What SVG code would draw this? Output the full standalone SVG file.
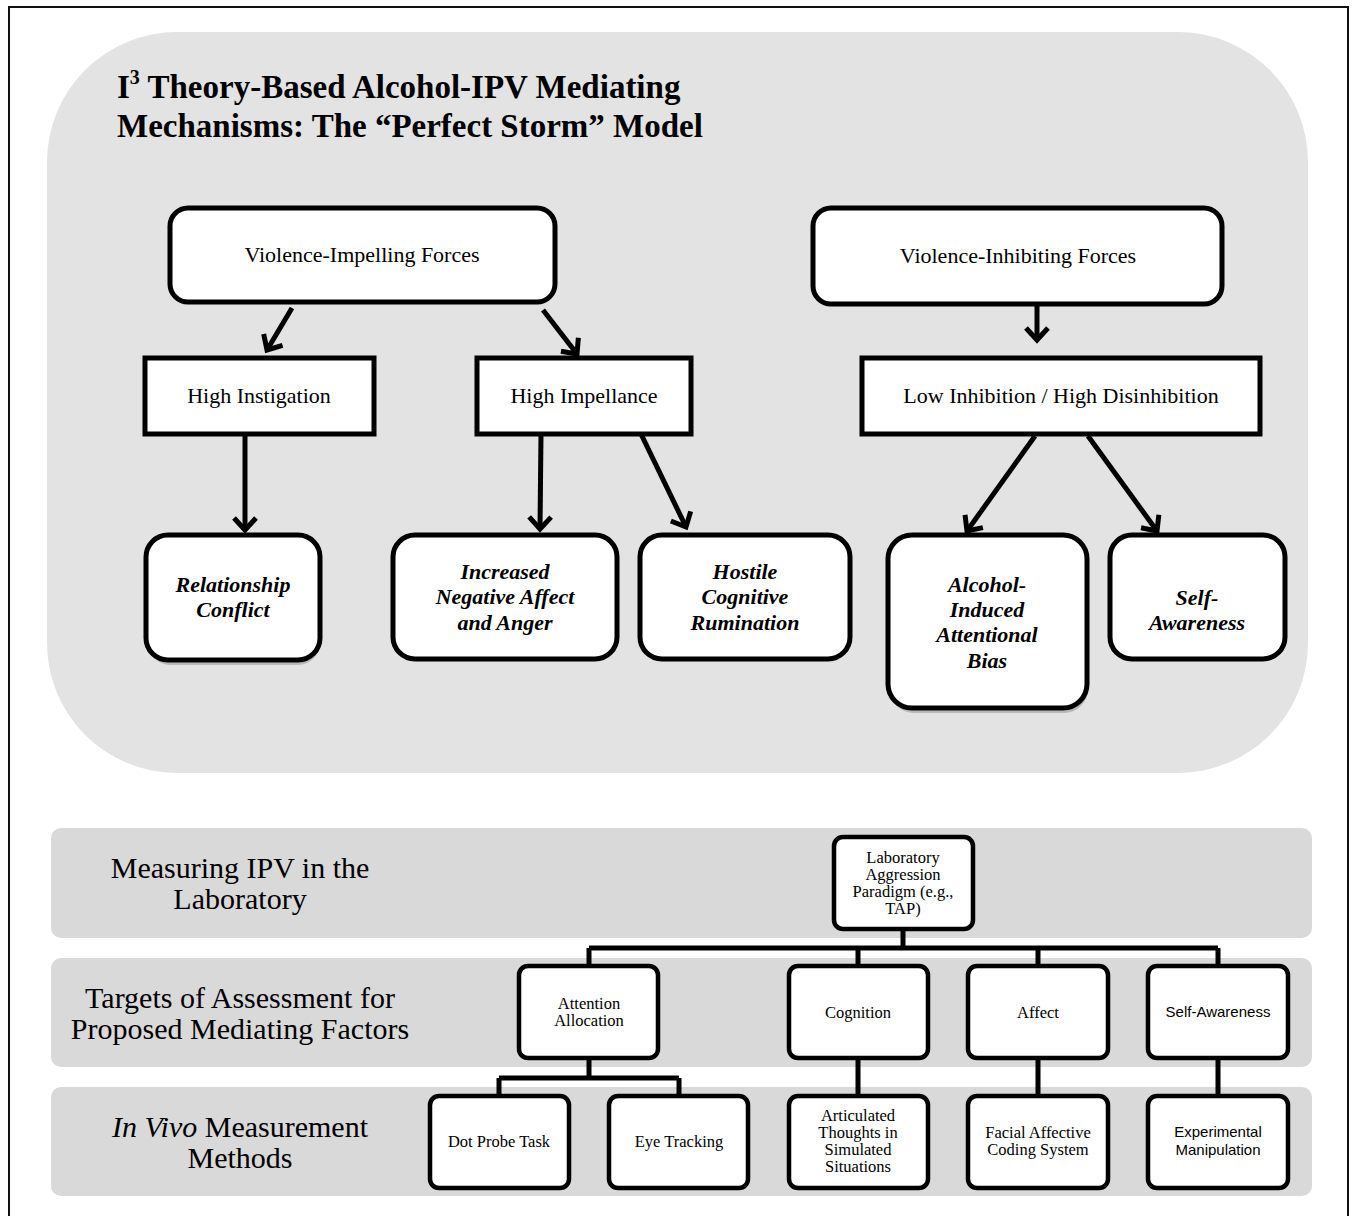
<svg xmlns="http://www.w3.org/2000/svg" width="1354" height="1216" viewBox="0 0 1354 1216">
<defs>
<style>
.serif{font-family:"Liberation Serif","Times New Roman",serif;fill:#000}
.sans{font-family:"Liberation Sans",Arial,sans-serif;fill:#000}
.title{font-size:33px;font-weight:bold}
.big{fill:#fff;stroke:#000;stroke-width:5}
.box{fill:#fff;stroke:#000;stroke-width:5}
.sbox{fill:#fff;stroke:#000;stroke-width:4.5}
.lbl{font-size:22px;text-anchor:middle}
.bi{font-size:22px;font-weight:bold;font-style:italic;text-anchor:middle}
.row{fill:#d9d9d9}
.rowlbl{font-size:30px;text-anchor:middle}
.sm{font-size:16.5px;text-anchor:middle}
.ss{font-size:15px;text-anchor:middle}
.arrow{fill:none;stroke:#000;stroke-width:5}
.conn{fill:none;stroke:#000;stroke-width:5}
.shadow{fill:#b8b8b8}
</style>
<marker id="chev" markerUnits="userSpaceOnUse" markerWidth="30" markerHeight="30" refX="15" refY="15" orient="auto" viewBox="0 0 30 30">
<path d="M3,4 L15,15 L3,26" fill="none" stroke="#000" stroke-width="5" stroke-linejoin="miter"/>
</marker>
</defs>
<rect x="0" y="0" width="1354" height="1216" fill="#fff"/>
<rect x="9" y="7" width="1339" height="1230" fill="none" stroke="#111" stroke-width="2"/>
<rect x="47" y="32" width="1261" height="741" rx="130" ry="130" fill="#e3e3e3"/>
<text class="serif title" x="117" y="98">I<tspan font-size="20" dy="-14">3</tspan><tspan dy="14"> Theory-Based Alcohol-IPV Mediating</tspan></text>
<text class="serif title" x="117" y="137">Mechanisms: The “Perfect Storm” Model</text>

<g id="rows">
<rect class="row" x="51" y="828" width="1261" height="110" rx="10"/>
<rect class="row" x="51" y="958" width="1261" height="109" rx="10"/>
<rect class="row" x="51" y="1087" width="1261" height="109" rx="10"/>
<text class="serif rowlbl" x="240" y="878">Measuring IPV in the</text>
<text class="serif rowlbl" x="240" y="909">Laboratory</text>
<text class="serif rowlbl" x="240" y="1008">Targets of Assessment for</text>
<text class="serif rowlbl" x="240" y="1039">Proposed Mediating Factors</text>
<text class="serif rowlbl" x="240" y="1137"><tspan font-style="italic">In Vivo</tspan> Measurement</text>
<text class="serif rowlbl" x="240" y="1168">Methods</text>
</g>

<g id="connectors">
<line class="arrow" x1="292" y1="308" x2="267" y2="350" marker-end="url(#chev)"/>
<line class="arrow" x1="543" y1="310" x2="577" y2="354" marker-end="url(#chev)"/>
<line class="arrow" x1="245" y1="434" x2="245" y2="530" marker-end="url(#chev)"/>
<line class="arrow" x1="541" y1="434" x2="540" y2="529" marker-end="url(#chev)"/>
<line class="arrow" x1="641" y1="434" x2="686" y2="527" marker-end="url(#chev)"/>
<line class="arrow" x1="1037" y1="306" x2="1037" y2="340" marker-end="url(#chev)"/>
<line class="arrow" x1="1035" y1="436" x2="967" y2="531" marker-end="url(#chev)"/>
<line class="arrow" x1="1088" y1="436" x2="1157" y2="531" marker-end="url(#chev)"/>
<path class="conn" d="M903,929 V948 M589,948 H1218 M589,948 V966 M858,948 V966 M1038,948 V966 M1218,948 V966"/>
<path class="conn" d="M589,1058 V1078 M499,1078 H679 M499,1078 V1096 M679,1078 V1096"/>
<path class="conn" d="M858,1058 V1096 M1038,1058 V1096 M1218,1058 V1096"/>
</g>

<g id="impelling">
<rect class="big" x="170" y="208" width="385" height="94" rx="18"/>
<text class="serif lbl" x="362" y="262">Violence-Impelling Forces</text>
</g>
<g id="inhibiting">
<rect class="big" x="813" y="208" width="409" height="96" rx="18"/>
<text class="serif lbl" x="1018" y="263">Violence-Inhibiting Forces</text>
</g>
<g id="instigation">
<rect class="box" x="145" y="358" width="229" height="76"/>
<text class="serif lbl" x="259" y="403">High Instigation</text>
</g>
<g id="impellance">
<rect class="box" x="477" y="358" width="214" height="76"/>
<text class="serif lbl" x="584" y="403">High Impellance</text>
</g>
<g id="lowinhib">
<rect class="box" x="862" y="358" width="398" height="76"/>
<text class="serif lbl" x="1061" y="403">Low Inhibition / High Disinhibition</text>
</g>
<g id="relconflict">
<rect class="shadow" x="148" y="540" width="172" height="125" rx="22"/>
<rect class="big" x="146" y="535" width="174" height="125" rx="22"/>
<text class="serif bi" x="233" y="592">Relationship</text>
<text class="serif bi" x="233" y="617">Conflict</text>
</g>
<g id="negaffect">
<rect class="big" x="393" y="535" width="224" height="124" rx="22"/>
<text class="serif bi" x="505" y="579">Increased</text>
<text class="serif bi" x="505" y="604">Negative Affect</text>
<text class="serif bi" x="505" y="630">and Anger</text>
</g>
<g id="hostile">
<rect class="big" x="640" y="535" width="210" height="124" rx="22"/>
<text class="serif bi" x="745" y="579">Hostile</text>
<text class="serif bi" x="745" y="604">Cognitive</text>
<text class="serif bi" x="745" y="630">Rumination</text>
</g>
<g id="attbias">
<rect class="shadow" x="890" y="539" width="198" height="174" rx="24"/>
<rect class="big" x="888" y="535" width="199" height="173" rx="24"/>
<text class="serif bi" x="987" y="592">Alcohol-</text>
<text class="serif bi" x="987" y="617">Induced</text>
<text class="serif bi" x="987" y="642">Attentional</text>
<text class="serif bi" x="987" y="668">Bias</text>
</g>
<g id="selfaware">
<rect class="big" x="1110" y="535" width="175" height="124" rx="22"/>
<text class="serif bi" x="1197" y="605">Self-</text>
<text class="serif bi" x="1197" y="630">Awareness</text>
</g>

<g id="labparadigm">
<rect class="sbox" x="834" y="837" width="139" height="92" rx="9"/>
<text class="serif sm" x="903" y="863">Laboratory</text>
<text class="serif sm" x="903" y="880">Aggression</text>
<text class="serif sm" x="903" y="897">Paradigm (e.g.,</text>
<text class="serif sm" x="903" y="914">TAP)</text>
</g>
<g id="attention">
<rect class="sbox" x="519" y="966" width="139" height="92" rx="9"/>
<text class="serif sm" x="589" y="1009">Attention</text>
<text class="serif sm" x="589" y="1026">Allocation</text>
</g>
<g id="cognition">
<rect class="sbox" x="789" y="966" width="139" height="92" rx="9"/>
<text class="serif sm" x="858" y="1018">Cognition</text>
</g>
<g id="affect">
<rect class="sbox" x="968" y="966" width="140" height="92" rx="9"/>
<text class="serif sm" x="1038" y="1018">Affect</text>
</g>
<g id="selfawareness2">
<rect class="sbox" x="1148" y="966" width="140" height="92" rx="9"/>
<text class="sans ss" x="1218" y="1017">Self-Awareness</text>
</g>
<g id="dotprobe">
<rect class="sbox" x="430" y="1096" width="139" height="92" rx="9"/>
<text class="serif sm" x="499" y="1147">Dot Probe Task</text>
</g>
<g id="eyetracking">
<rect class="sbox" x="609" y="1096" width="139" height="92" rx="9"/>
<text class="serif sm" x="679" y="1147">Eye Tracking</text>
</g>
<g id="articulated">
<rect class="sbox" x="789" y="1096" width="139" height="92" rx="9"/>
<text class="serif sm" x="858" y="1121">Articulated</text>
<text class="serif sm" x="858" y="1138">Thoughts in</text>
<text class="serif sm" x="858" y="1155">Simulated</text>
<text class="serif sm" x="858" y="1172">Situations</text>
</g>
<g id="facial">
<rect class="sbox" x="968" y="1096" width="140" height="92" rx="9"/>
<text class="serif sm" x="1038" y="1138">Facial Affective</text>
<text class="serif sm" x="1038" y="1155">Coding System</text>
</g>
<g id="experimental">
<rect class="sbox" x="1148" y="1096" width="140" height="92" rx="9"/>
<text class="sans ss" x="1218" y="1137">Experimental</text>
<text class="sans ss" x="1218" y="1155">Manipulation</text>
</g>
</svg>
